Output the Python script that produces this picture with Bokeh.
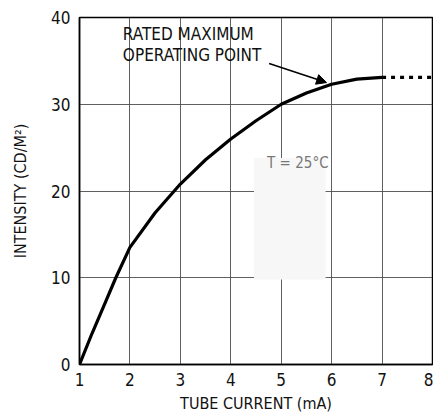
from bokeh.plotting import figure
from bokeh.models import Range1d, Label, Arrow, NormalHead, FixedTicker
from bokeh.embed import file_html
from bokeh.resources import INLINE

# data
current_ma = [1.0, 1.25, 1.5, 1.72, 2.0, 2.5, 3.0, 3.5, 4.0, 4.5, 5.0, 5.5, 6.0, 6.5, 7.0]
intensity = [0.0, 3.6, 7.0, 10.0, 13.5, 17.5, 20.8, 23.6, 26.0, 28.1, 30.0, 31.3, 32.3, 32.9, 33.1]
extrap_current = [7.0, 8.0]
extrap_intensity = [33.1, 33.1]
x_ticks = [1, 2, 3, 4, 5, 6, 7, 8]
y_ticks = [0, 10, 20, 30, 40]

FONT = "'DejaVu Sans Condensed', 'Liberation Sans Narrow', 'Liberation Sans', sans-serif"

p = figure(width=433, height=415, output_backend="svg", toolbar_location=None,
           x_range=Range1d(1, 8), y_range=Range1d(0, 40),
           min_border_left=79, min_border_right=1, min_border_top=17, min_border_bottom=51)
p.background_fill_color = "white"
p.border_fill_color = "white"
p.outline_line_color = "black"
p.outline_line_width = 1.5

# faint smudge
p.quad(left=[4.46], right=[5.88], bottom=[9.8], top=[23.8], fill_color="#f7f7f7", line_color=None)

p.line(current_ma, intensity, line_color="black", line_width=3.2)
p.line(extrap_current, extrap_intensity, line_color="black", line_width=3.2, line_dash="4 5")

for ax in (p.xaxis[0], p.yaxis[0]):
    ax.major_tick_out = 0
    ax.major_tick_in = 0
    ax.minor_tick_out = 0
    ax.minor_tick_in = 0
    ax.axis_line_color = "black"
    ax.axis_line_width = 1.5
    ax.major_label_text_font = FONT
    ax.major_label_text_font_size = "17px"
    ax.major_label_text_color = "#111"
    ax.axis_label_text_font = FONT
    ax.axis_label_text_font_size = "16px"
    ax.axis_label_text_font_style = "normal"
    ax.axis_label_text_color = "#111"

p.xaxis.ticker = FixedTicker(ticks=x_ticks)
p.yaxis.ticker = FixedTicker(ticks=y_ticks)
p.xaxis.axis_label = "TUBE CURRENT (mA)"
p.yaxis.axis_label = "INTENSITY (CD/M²)"
p.xaxis.major_label_standoff = 8
p.yaxis.major_label_standoff = 9
p.xaxis.axis_label_standoff = 5
p.yaxis.axis_label_standoff = 18

p.grid.grid_line_color = "#444"
p.grid.grid_line_width = 1
p.grid.grid_line_alpha = 0.85
p.xgrid.ticker = FixedTicker(ticks=x_ticks)
p.ygrid.ticker = FixedTicker(ticks=y_ticks)

p.add_layout(Label(x=1.86, y=36.9, text="RATED MAXIMUM", text_font=FONT,
                   text_font_size="17px", text_color="#111"))
p.add_layout(Label(x=1.86, y=34.5, text="OPERATING POINT", text_font=FONT,
                   text_font_size="17px", text_color="#111"))
p.add_layout(Arrow(end=NormalHead(size=10, fill_color="black", line_color="black"),
                   x_start=4.76, y_start=34.7, x_end=5.9, y_end=32.5,
                   line_color="black", line_width=1.5))
p.add_layout(Label(x=4.72, y=22.2, text="T = 25°C", text_font=FONT,
                   text_font_size="15px", text_color="#777"))

open("out.html", "w").write(file_html(p, INLINE))
